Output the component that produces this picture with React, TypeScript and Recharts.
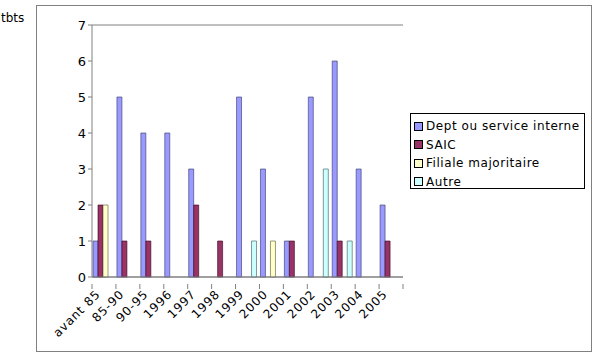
import React from "react";
import { BarChart, Bar, XAxis, YAxis, CartesianGrid } from "recharts";

// periods
const categories = ["avant 85", "85-90", "90-95", "1996", "1997", "1998", "1999", "2000", "2001", "2002", "2003", "2004", "2005"];

// counts per structure type
const deptValues = [1, 5, 4, 4, 3, 0, 5, 3, 1, 5, 6, 3, 2];
const saicValues = [2, 1, 1, 0, 2, 1, 0, 0, 1, 0, 1, 0, 1];
const filialeValues = [2, 0, 0, 0, 0, 0, 0, 1, 0, 0, 0, 0, 0];
const autreValues = [0, 0, 0, 0, 0, 0, 1, 0, 0, 3, 1, 0, 0];

const yTicks = [0, 1, 2, 3, 4, 5, 6, 7];

const seriesNames = ["Dept ou service interne", "SAIC", "Filiale majoritaire", "Autre"];
const colors = ["#9999FF", "#993366", "#FFFFCC", "#CCFFFF"];

const FONT = "'DejaVu Sans', Verdana, sans-serif";
const PLOT_LEFT = 92;
const PLOT_RIGHT = 403;
const STEP = (PLOT_RIGHT - PLOT_LEFT) / categories.length;

const data = categories.map((name, i) => ({
  name,
  dept: deptValues[i],
  saic: saicValues[i],
  filiale: filialeValues[i],
  autre: autreValues[i],
}));

function XTick(props: any) {
  const { x, y, payload, index } = props;
  const left = x - STEP / 2;
  const ax = x - 3;
  const ay = y + 10;
  return (
    <g>
      <line x1={left} y1={y - 1} x2={left} y2={y + 4} stroke="#808080" />
      {index === categories.length - 1 && (
        <line x1={left + STEP} y1={y - 1} x2={left + STEP} y2={y + 4} stroke="#808080" />
      )}
      <text
        x={ax}
        y={ay}
        textAnchor="end"
        fontSize={12}
        fontFamily={FONT}
        fill="#000"
        letterSpacing={0.9}
        transform={`rotate(-45, ${ax}, ${ay})`}
      >
        {payload.value}
      </text>
    </g>
  );
}

function LegendBox() {
  return (
    <div
      style={{
        position: "absolute",
        left: 410,
        top: 113,
        border: "1px solid #000",
        background: "#fff",
        width: 175,
        height: 76,
        padding: "3px 0 0 3px",
        fontFamily: FONT,
        fontSize: 12,
        boxSizing: "border-box",
      }}
    >
      {seriesNames.map((n, i) => (
        <div key={n} style={{ display: "flex", alignItems: "center", height: 18.5 }}>
          <span
            style={{
              width: 7,
              height: 7,
              background: colors[i],
              border: "1px solid #000",
              marginRight: 3,
              display: "inline-block",
            }}
          />
          <span style={{ letterSpacing: 0.55, whiteSpace: "nowrap" }}>{n}</span>
        </div>
      ))}
    </div>
  );
}

export default function App() {
  return (
    <div style={{ position: "absolute", left: 0, top: 0, width: 595, height: 354, background: "#fff" }}>
      <div
        style={{
          position: "absolute",
          left: 36,
          top: 5,
          width: 556,
          height: 347,
          border: "1px solid #808080",
          boxSizing: "border-box",
        }}
      />
      <div style={{ position: "absolute", left: 1, top: 11, fontFamily: FONT, fontSize: 12 }}>tbts</div>
      <div style={{ position: "absolute", left: 0, top: 0 }}>
        <BarChart
          width={595}
          height={354}
          data={data}
          margin={{ top: 25, right: 192, left: 52, bottom: 0 }}
          barCategoryGap={1}
          barGap={0}
        >
          <CartesianGrid vertical={false} stroke="#808080" strokeWidth={1} />
          <XAxis
            dataKey="name"
            height={77}
            interval={0}
            tickLine={false}
            axisLine={{ stroke: "#808080" }}
            tick={<XTick />}
          />
          <YAxis
            yAxisId="left"
            width={40}
            domain={[0, 7]}
            ticks={yTicks}
            interval={0}
            tickSize={4}
            tickLine={{ stroke: "#808080" }}
            axisLine={{ stroke: "#808080" }}
            tick={{ fontSize: 13, fontFamily: FONT, fill: "#000" }}
          />
          <YAxis
            yAxisId="right"
            orientation="right"
            width={0}
            domain={[0, 7]}
            tick={false}
            tickLine={false}
            axisLine={{ stroke: "#808080" }}
          />
          <Bar yAxisId="left" dataKey="dept" name={seriesNames[0]} fill={colors[0]} stroke="#333366" strokeWidth={0.6} isAnimationActive={false} />
          <Bar yAxisId="left" dataKey="saic" name={seriesNames[1]} fill={colors[1]} stroke="#33001a" strokeWidth={0.6} isAnimationActive={false} />
          <Bar yAxisId="left" dataKey="filiale" name={seriesNames[2]} fill={colors[2]} stroke="#555533" strokeWidth={0.6} isAnimationActive={false} />
          <Bar yAxisId="left" dataKey="autre" name={seriesNames[3]} fill={colors[3]} stroke="#335555" strokeWidth={0.6} isAnimationActive={false} />
        </BarChart>
      </div>
      <LegendBox />
    </div>
  );
}
